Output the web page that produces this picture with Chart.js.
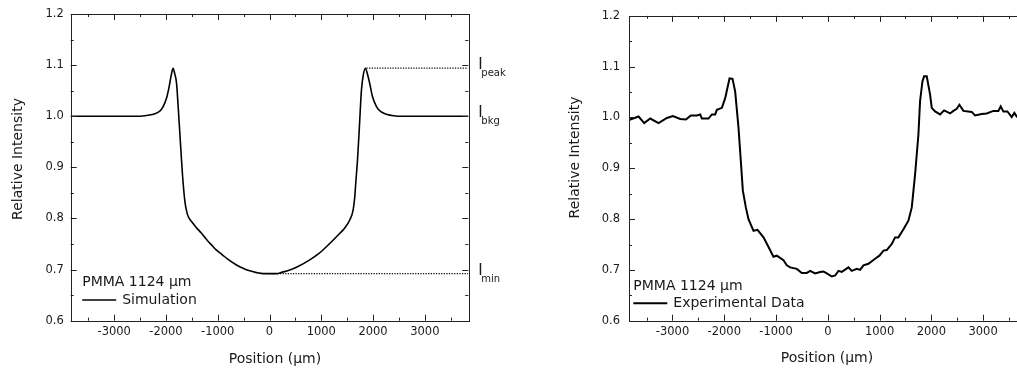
<!DOCTYPE html>
<html>
<head>
<meta charset="utf-8">
<script src="https://cdn.jsdelivr.net/npm/chart.js@4.4.0/dist/chart.umd.min.js"></script>
<style>
  html, body { margin: 0; padding: 0; background: #fff; overflow: hidden; width: 1017px; height: 370px; }
  canvas { position: absolute; top: 0; }
  #left { left: 0; }
  #right { left: 520px; }
</style>
</head>
<body>
<canvas id="left" width="520" height="370"></canvas>
<canvas id="right" width="520" height="370"></canvas>
<script>
// --- data ---
const xMin = -3840, xMax = 3840;
const yMin = 0.6, yMax = 1.2;
const xMajorTicks = [-3000, -2000, -1000, 0, 1000, 2000, 3000];
const xMinorTicks = [-3500, -2500, -1500, -500, 500, 1500, 2500, 3500];
const yMajorTicks = [0.6, 0.7, 0.8, 0.9, 1.0, 1.1, 1.2];
const yMinorTicks = [0.65, 0.75, 0.85, 0.95, 1.05, 1.15];

const simX = [-3840, -2700, -2500, -2350, -2214, -2120, -2054, -1990, -1938, -1895, -1862, -1830, -1796, -1765, -1732, -1700, -1668, -1630, -1591, -1550, -1506, -1420, -1313, -1200, -1100, -1023, -900, -800, -637, -500, -400, -251, -120, 0,
  135, 250, 392, 550, 778, 950, 1164, 1350, 1450, 1550, 1614, 1645, 1666, 1700, 1730, 1755, 1776, 1810, 1853, 1890, 1936, 1990, 2066, 2150, 2259, 2400, 2580, 3840];
const simY = [1.000, 1.000, 1.000, 1.002, 1.005, 1.010, 1.019, 1.035, 1.058, 1.082, 1.094, 1.083, 1.065, 1.020, 0.967, 0.915, 0.869, 0.830, 0.810, 0.800, 0.794, 0.783, 0.771, 0.757, 0.746, 0.738, 0.728, 0.720, 0.709, 0.702, 0.698, 0.694, 0.692, 0.692,
  0.692, 0.695, 0.699, 0.706, 0.719, 0.731, 0.751, 0.770, 0.781, 0.797, 0.816, 0.840, 0.869, 0.915, 0.967, 1.015, 1.051, 1.080, 1.094, 1.083, 1.064, 1.038, 1.019, 1.009, 1.004, 1.001, 1.000, 1.000];

const expX = [-3840, -3816, -3655, -3546, -3430, -3269, -3108, -2992, -2851, -2741, -2645, -2529, -2465, -2432, -2304, -2239, -2175, -2143, -2046, -1982, -1898, -1840, -1789, -1725, -1680, -1641, -1583, -1532, -1435, -1358, -1242, -1145, -1049, -985, -856, -792, -727, -598, -502, -405, -341, -245, -148, -84, -19,
  77, 142, 206, 270, 399, 463, 560, 624, 689, 785, 914, 997, 1075, 1139, 1236, 1300, 1364, 1461, 1557, 1622, 1686, 1750, 1782, 1828, 1860, 1911, 1976, 2008, 2072, 2169, 2246, 2362, 2426, 2490, 2542, 2619, 2780, 2844, 2973, 3069, 3198, 3295, 3340, 3391, 3469, 3552, 3604, 3649, 3750, 3840];
const expY = [0.995, 0.996, 1.002, 0.989, 0.998, 0.989, 0.999, 1.003, 0.997, 0.996, 1.004, 1.004, 1.006, 0.998, 0.998, 1.006, 1.006, 1.015, 1.019, 1.038, 1.077, 1.076, 1.051, 0.980, 0.914, 0.856, 0.823, 0.800, 0.777, 0.779, 0.764, 0.745, 0.726, 0.728, 0.719, 0.709, 0.705, 0.702, 0.694, 0.694, 0.698, 0.693, 0.696, 0.697, 0.693,
  0.687, 0.689, 0.698, 0.696, 0.705, 0.698, 0.702, 0.700, 0.709, 0.712, 0.722, 0.728, 0.738, 0.739, 0.751, 0.764, 0.764, 0.780, 0.797, 0.823, 0.888, 0.966, 1.032, 1.071, 1.081, 1.081, 1.045, 1.019, 1.012, 1.006, 1.014, 1.008, 1.013, 1.017, 1.025, 1.013, 1.011, 1.004, 1.007, 1.008, 1.013, 1.013, 1.022, 1.012, 1.012, 1.001, 1.009, 1.002, 1.005, 1.003];

// dotted reference lines and their labels (simulation panel)
const peakLineX = [1873, 3840], peakLineY = [1.094, 1.094];
const minLineX = [0, 3840], minLineY = [0.692, 0.692];
const annoNames = ["peak", "bkg", "min"];
const annoValues = [1.094, 1.0, 0.692];

const sampleLabel = "PMMA 1124 \u03bcm";
const xTitle = "Position (\u03bcm)";
const yTitle = "Relative Intensity";

const FONT = "'DejaVu Sans', Verdana, sans-serif";
const INK = "#1a1a1a";

function toPoints(xs, ys) {
  return xs.map((x, i) => ({ x: x, y: ys[i] }));
}

// frame with inward ticks on all four sides, titles, legend, annotations
const panelPlugin = {
  id: "panel",
  afterDatasetsDraw(chart, args, o) {
    const ctx = chart.ctx;
    const a = chart.chartArea;
    const xs = chart.scales.x, ys = chart.scales.y;
    ctx.save();
    ctx.strokeStyle = "#222";
    ctx.lineWidth = 1;
    ctx.strokeRect(Math.round(a.left) + 0.5, Math.round(a.top) + 0.5, Math.round(a.width), Math.round(a.height));

    ctx.beginPath();
    function xTick(v, len) {
      const px = Math.round(xs.getPixelForValue(v)) + 0.5;
      ctx.moveTo(px, a.bottom); ctx.lineTo(px, a.bottom - len);
      ctx.moveTo(px, a.top); ctx.lineTo(px, a.top + len);
    }
    function yTick(v, len) {
      const py = Math.round(ys.getPixelForValue(v)) + 0.5;
      ctx.moveTo(a.left, py); ctx.lineTo(a.left + len, py);
      ctx.moveTo(a.right, py); ctx.lineTo(a.right - len, py);
    }
    xMajorTicks.forEach(v => xTick(v, 6));
    xMinorTicks.forEach(v => xTick(v, 3));
    yMajorTicks.forEach(v => yTick(v, 6));
    yMinorTicks.forEach(v => yTick(v, 3));
    ctx.stroke();

    // axis titles
    ctx.fillStyle = INK;
    ctx.font = "14px " + FONT;
    ctx.textAlign = "center";
    ctx.textBaseline = "middle";
    ctx.fillText(xTitle, o.xTitleX, o.xTitleY);
    ctx.save();
    ctx.translate(o.yTitleX, o.yTitleY);
    ctx.rotate(-Math.PI / 2);
    ctx.fillText(yTitle, 0, 0);
    ctx.restore();

    // legend inside the plot
    ctx.textAlign = "left";
    ctx.font = "14px " + FONT;
    ctx.fillText(sampleLabel, a.left + o.legX, a.bottom - o.legY1);
    ctx.beginPath();
    ctx.lineWidth = o.lineWidth;
    ctx.strokeStyle = "#000";
    ctx.moveTo(a.left + o.legX, a.bottom - o.legY2);
    ctx.lineTo(a.left + o.legX + 34, a.bottom - o.legY2);
    ctx.stroke();
    ctx.fillText(o.seriesName, a.left + o.legX + 40, a.bottom - o.legY2);

    // I_peak / I_bkg / I_min labels at the right side
    if (o.annotate) {
      ctx.textBaseline = "alphabetic";
      annoNames.forEach((name, i) => {
        const py = ys.getPixelForValue(annoValues[i]);
        ctx.font = "15px " + FONT;
        ctx.fillText("I", a.right + 10, py + 1);
        ctx.font = "10px " + FONT;
        ctx.fillText(name, a.right + 13, py + 8);
      });
    }
    ctx.restore();
  }
};

function makeChart(id, datasets, o) {
  return new Chart(document.getElementById(id), {
    type: "scatter",
    data: { datasets: datasets },
    options: {
      responsive: false,
      animation: false,
      events: [],
      layout: { padding: { left: o.padLeft, top: 14, right: o.padRight, bottom: 0 } },
      plugins: { legend: { display: false }, tooltip: { enabled: false }, panel: o },
      scales: {
        x: {
          type: "linear", min: xMin, max: xMax,
          afterBuildTicks: s => { s.ticks = xMajorTicks.map(v => ({ value: v })); },
          afterFit: s => { s.height = 49.3; },
          grid: { display: false, drawTicks: false },
          border: { display: false },
          ticks: { padding: 4, color: INK, font: { family: FONT, size: 11.5 }, maxRotation: 0, callback: v => String(v) }
        },
        y: {
          type: "linear", min: yMin, max: yMax,
          afterBuildTicks: s => { s.ticks = yMajorTicks.map(v => ({ value: v })); },
          afterFit: s => { s.width = o.yWidth; },
          grid: { display: false, drawTicks: false },
          border: { display: false },
          ticks: { padding: o.yPad, color: INK, font: { family: FONT, size: 11.5 }, callback: v => v.toFixed(1) }
        }
      }
    },
    plugins: [panelPlugin]
  });
}

// simulation panel
makeChart("left", [
  { data: toPoints(simX, simY), showLine: true, borderColor: "#000", borderWidth: 1.6, pointRadius: 0, cubicInterpolationMode: "monotone" },
  { data: toPoints(peakLineX, peakLineY), showLine: true, borderColor: "#111", borderWidth: 1.3, borderDash: [1.3, 1.3], pointRadius: 0 },
  { data: toPoints(minLineX, minLineY), showLine: true, borderColor: "#111", borderWidth: 1.3, borderDash: [1.3, 1.3], pointRadius: 0 }
], {
  padLeft: 0, padRight: 51.7, yWidth: 70.7, yPad: 7,
  xTitleX: 275, xTitleY: 359, yTitleX: 18.5, yTitleY: 159,
  legX: 11.5, legY1: 38, legY2: 20.7, lineWidth: 1.6,
  seriesName: "Simulation", annotate: true
});

// experimental panel (cut off at the right window edge)
makeChart("right", [
  { data: toPoints(expX, expY), showLine: true, borderColor: "#000", borderWidth: 2, pointRadius: 0 }
], {
  padLeft: 37, padRight: 13.4, yWidth: 72, yPad: 9,
  xTitleX: 307, xTitleY: 358, yTitleX: 55.5, yTitleY: 157.5,
  legX: 4.3, legY1: 34.7, legY2: 17.4, lineWidth: 2,
  seriesName: "Experimental Data", annotate: false
});
</script>
</body>
</html>
